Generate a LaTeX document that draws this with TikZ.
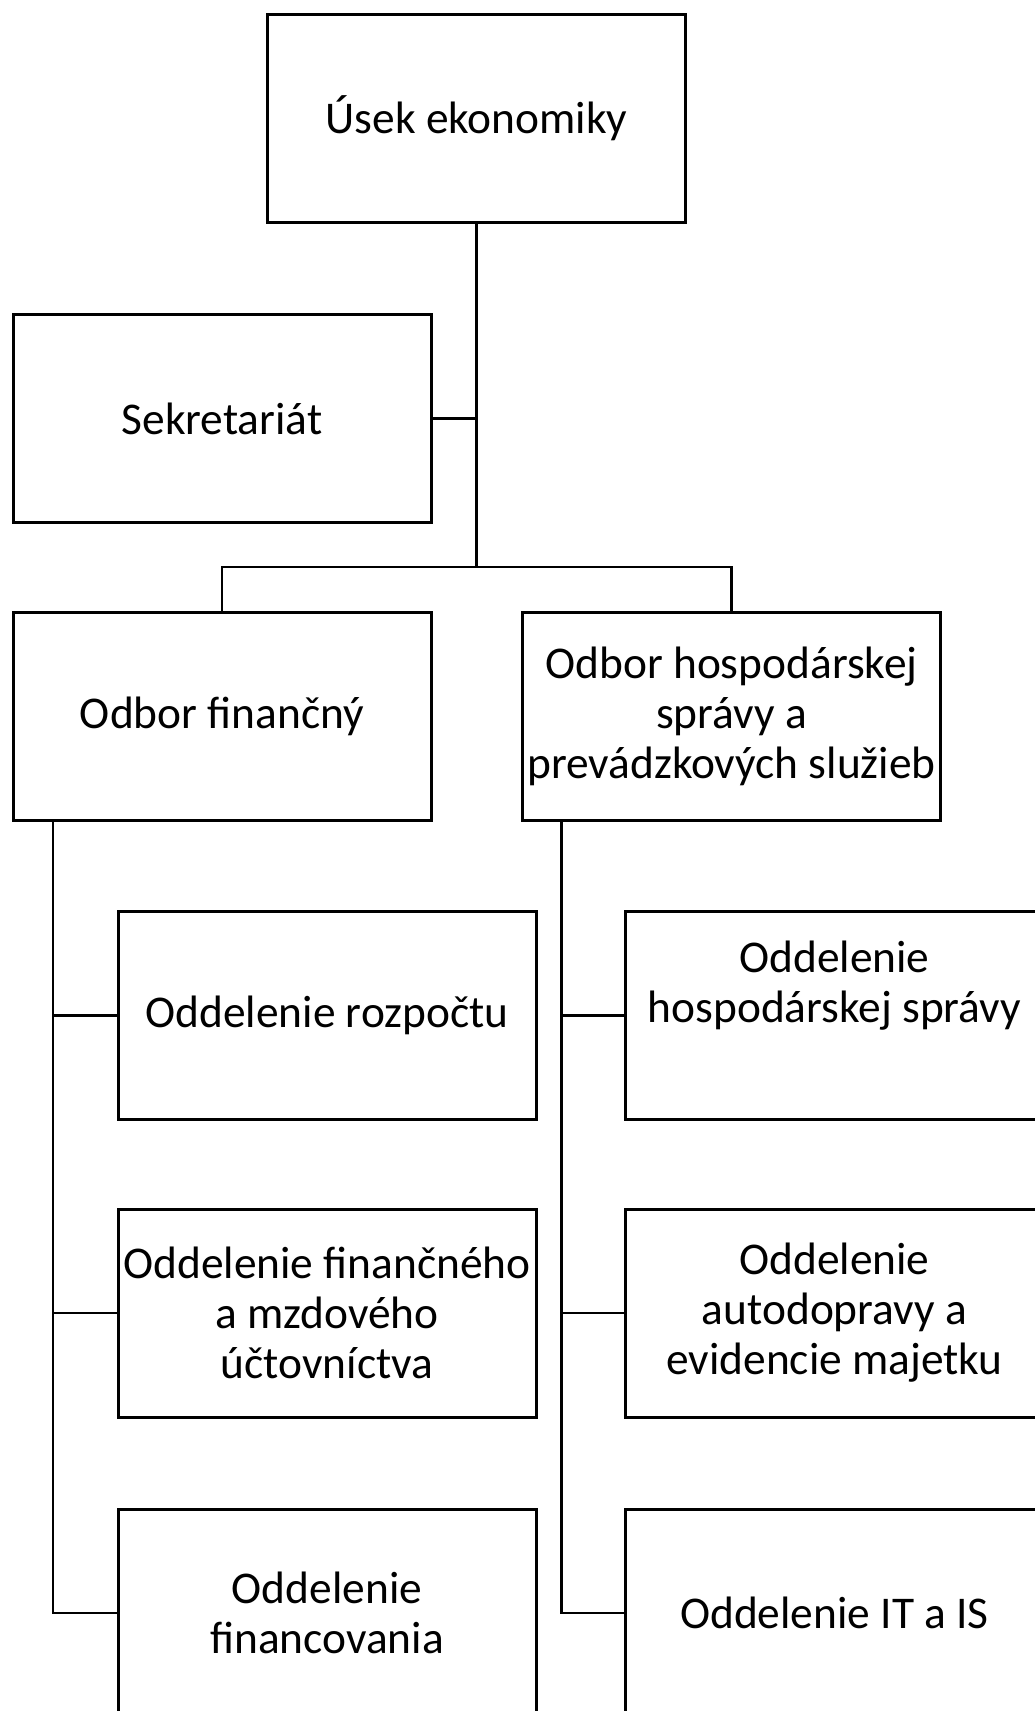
\documentclass[tikz,border=0pt]{standalone}
\usepackage{fontspec}
\setmainfont{Carlito}
\begin{document}
\begin{tikzpicture}[x=1pt,y=-1pt,
  box/.style={draw, line width=3pt, minimum width=418pt, minimum height=208pt,
    inner sep=0pt, align=center, font=\fontsize{45.4}{50}\selectfont},
  txt/.style={inner sep=0pt, align=center, font=\fontsize{45.4}{50}\selectfont},
  conn/.style={line width=2.6pt}]
\useasboundingbox (0,0) rectangle (1035,1711);
\fill[white] (0,0) rectangle (1035,1711);
% boxes
\node[box] (A) at (476.5,118) {Úsek ekonomiky};
\node[box] (S) at (222,418.5) {Sekretariát};
\node[box] (F) at (222,716.5) {Odbor finančný};
\node[box] (H) at (731.5,716.5) {Odbor hospodárskej\\správy a\\prevádzkových služieb};
\node[box] (L1) at (327,1015.5) {Oddelenie rozpočtu};
\node[box] (L2) at (327,1313) {Oddelenie finančného\\a mzdového\\účtovníctva};
\node[box] (L3) at (327,1613) {Oddelenie\\financovania};
\node[box] (R1) at (834.5,1015.5) {};
\node[txt] (R1t) at ([yshift=30pt]R1.center) {Oddelenie\\hospodárskej správy};
\node[box] (R2) at (834.5,1313) {Oddelenie\\autodopravy a\\evidencie majetku};
\node[box] (R3) at (834.5,1613) {Oddelenie IT a IS};
% junctions
\coordinate (j) at (476.5,567);
\coordinate (fl) at ([xshift=41.5pt]F.south west);
\coordinate (hl) at ([xshift=40.5pt]H.south west);
% connectors
\draw[conn] (A.south) -- (j);
\draw[conn] (S.east) -- (S.east -| j);
\draw[conn] (F.north) |- (H.north |- j) -- (H.north);
\draw[conn] (fl) |- (L3.west);
\draw[conn] (L1.west -| fl) -- (L1.west);
\draw[conn] (L2.west -| fl) -- (L2.west);
\draw[conn] (hl) |- (R3.west);
\draw[conn] (R1.west -| hl) -- (R1.west);
\draw[conn] (R2.west -| hl) -- (R2.west);
\end{tikzpicture}
\end{document}
